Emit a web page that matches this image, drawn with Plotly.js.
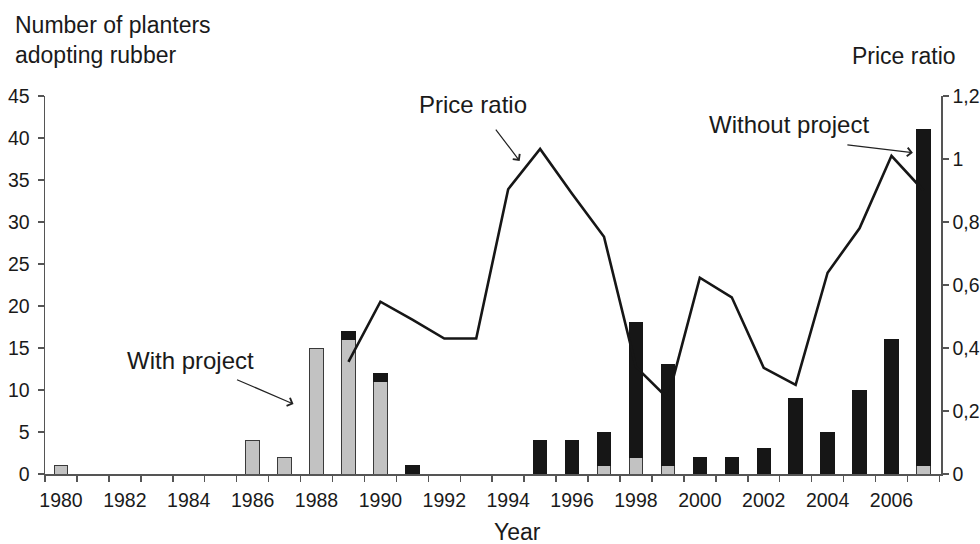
<!DOCTYPE html>
<html>
<head>
<meta charset="utf-8">
<script src="https://cdn.plot.ly/plotly-3.0.1.min.js"></script>
<style>html,body{margin:0;padding:0;background:#fff;}#chart{width:980px;height:544px;}</style>
</head>
<body>
<div id="chart"></div>
<script>
// Bars: planters adopting rubber
const withYears = [1980, 1986, 1987, 1988, 1989, 1990, 1997, 1998, 1999, 2007];
const withValues = [1, 4, 2, 15, 16, 11, 1, 2, 1, 1];
const withoutYears = [1989, 1990, 1991, 1995, 1996, 1997, 1998, 1999, 2000, 2001, 2002, 2003, 2004, 2005, 2006, 2007];
const withoutValues = [1, 1, 1, 4, 4, 4, 16, 12, 2, 2, 3, 9, 5, 10, 16, 40];
// Price ratio line
const priceYears = [1989, 1990, 1991, 1992, 1993, 1994, 1995, 1996, 1997, 1998, 1999, 2000, 2001, 2002, 2003, 2004, 2005, 2006, 2007];
const priceValues = [0.356, 0.547, 0.49, 0.43, 0.43, 0.904, 1.032, 0.89, 0.753, 0.34, 0.24, 0.623, 0.561, 0.337, 0.283, 0.639, 0.78, 1.01, 0.9];
// Tick labels
const xLabelYears = [1980, 1982, 1984, 1986, 1988, 1990, 1992, 1994, 1996, 1998, 2000, 2002, 2004, 2006];
const leftTicks = [0, 5, 10, 15, 20, 25, 30, 35, 40, 45];
const rightTicks = [0, 0.2, 0.4, 0.6, 0.8, 1, 1.2];

const FONT = '"Liberation Sans", Arial, Helvetica, sans-serif';
const TXT = '#1a1a1a';
const AX = '#555555';

const traces = [
  {
    type: 'bar', x: withYears, y: withValues, name: 'With project',
    width: 0.42,
    marker: {color: '#c2c2c2', line: {color: '#3a3a3a', width: 1}},
    hoverinfo: 'x+y'
  },
  {
    type: 'bar', x: withoutYears, y: withoutValues, name: 'Without project',
    width: 0.42,
    marker: {color: '#161616', line: {color: '#161616', width: 1}},
    hoverinfo: 'x+y'
  },
  {
    type: 'scatter', mode: 'lines', x: priceYears, y: priceValues, yaxis: 'y2',
    name: 'Price ratio',
    line: {color: '#161616', width: 2.6}
  }
];

const layout = {
  width: 980, height: 544,
  margin: {l: 45, r: 39, t: 96, b: 70, pad: 0},
  paper_bgcolor: '#ffffff', plot_bgcolor: '#ffffff',
  barmode: 'stack',
  showlegend: false,
  separators: ', ',
  font: {family: FONT, color: TXT, size: 19.5},
  xaxis: {
    range: [1979.5, 2007.55],
    tickmode: 'array', tickvals: xLabelYears, ticktext: xLabelYears.map(String),
    ticks: '', showgrid: false, zeroline: false,
    showline: true, linecolor: AX, linewidth: 1.5,
    ticklabelstandoff: 8,
    tickfont: {size: 19.5, family: FONT, color: TXT},
    minor: {tickmode: 'linear', tick0: 1979.5, dtick: 1, ticks: 'outside', ticklen: 6, tickwidth: 1.5, tickcolor: AX, showgrid: false}
  },
  yaxis: {
    range: [0, 45], tickmode: 'array', tickvals: leftTicks,
    ticks: 'outside', ticklen: 6, tickwidth: 1.5, tickcolor: AX,
    showline: true, linecolor: AX, linewidth: 1.5,
    showgrid: false, zeroline: false,
    ticklabelstandoff: 4,
    tickfont: {size: 19.5, family: FONT, color: TXT}
  },
  yaxis2: {
    range: [0, 1.2], overlaying: 'y', side: 'right', anchor: 'x',
    tickmode: 'array', tickvals: rightTicks,
    ticks: 'outside', ticklen: 6, tickwidth: 1.5, tickcolor: AX,
    showline: true, linecolor: AX, linewidth: 1.5,
    showgrid: false, zeroline: false,
    tickfont: {size: 19.5, family: FONT, color: TXT}
  },
  annotations: [
    {xref: 'paper', yref: 'paper', x: -0.0357, y: 1.069, xanchor: 'left', yanchor: 'bottom', align: 'left',
     text: 'Number of planters<br>adopting rubber', showarrow: false, font: {size: 23, family: FONT, color: TXT}},
    {xref: 'paper', yref: 'paper', x: 1.019, y: 1.066, xanchor: 'right', yanchor: 'bottom',
     text: 'Price ratio', showarrow: false, font: {size: 23, family: FONT, color: TXT}},
    {xref: 'paper', yref: 'paper', x: 0.527, y: -0.153, xanchor: 'center', yanchor: 'middle',
     text: 'Year', showarrow: false, font: {size: 23, family: FONT, color: TXT}},
    // inline labels
    {xref: 'x', yref: 'y', x: 1992.89, y: 43.93, text: 'Price ratio', showarrow: false, font: {size: 24, family: FONT, color: TXT}},
    {xref: 'x', yref: 'y', x: 1984.05, y: 13.57, text: 'With project', showarrow: false, font: {size: 24, family: FONT, color: TXT}},
    {xref: 'x', yref: 'y', x: 2002.78, y: 41.55, text: 'Without project', showarrow: false, font: {size: 24, family: FONT, color: TXT}},
    // arrows
    {xref: 'x', yref: 'y', x: 1994.36, y: 37.26, ax: -25, ay: -33, text: '', showarrow: true, arrowhead: 4, arrowsize: 1.4, arrowwidth: 1.2, arrowcolor: '#222', standoff: 0, startstandoff: 0},
    {xref: 'x', yref: 'y', x: 1987.28, y: 8.33, ax: -58, ay: -25, text: '', showarrow: true, arrowhead: 4, arrowsize: 1.4, arrowwidth: 1.2, arrowcolor: '#222', standoff: 0, startstandoff: 0},
    {xref: 'x', yref: 'y', x: 2006.67, y: 38.25, ax: -67, ay: -8, text: '', showarrow: true, arrowhead: 4, arrowsize: 1.4, arrowwidth: 1.2, arrowcolor: '#222', standoff: 0, startstandoff: 0}
  ]
};

Plotly.newPlot('chart', traces, layout, {displayModeBar: false, staticPlot: true});
</script>
</body>
</html>
